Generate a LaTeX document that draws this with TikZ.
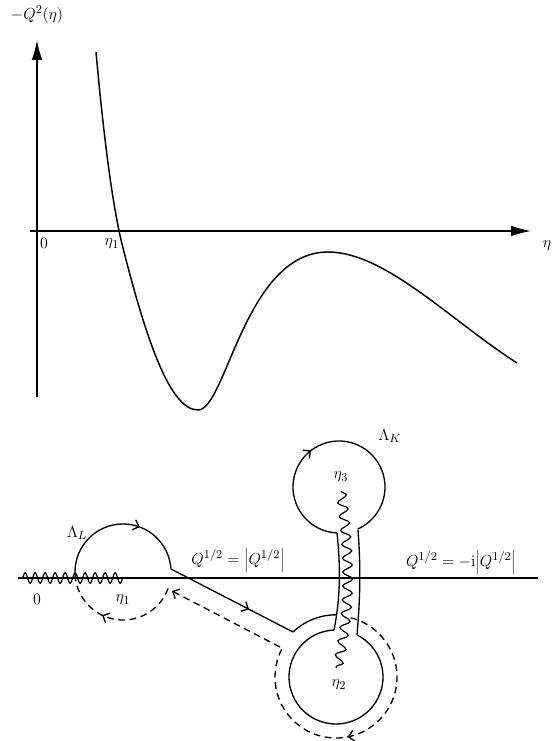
\documentclass[tikz,border=0pt]{standalone}
\usetikzlibrary{arrows.meta,decorations.pathmorphing,decorations.markings}
\tikzset{
  axis/.style={line width=1.1pt,-{Latex[length=15pt,width=8pt]}},
  curve/.style={line width=1.1pt},
  cont/.style={line width=1pt},
  dcont/.style={line width=1pt,dash pattern=on 5pt off 3.5pt},
  barb/.style={-{Straight Barb[length=4pt,width=8pt,line width=1pt]}},
  midarrow/.style={postaction={decorate,decoration={markings,
     mark=at position #1 with {\arrow{Straight Barb[length=4pt,width=8pt,line width=1pt]}}}}},
  hcut/.style={line width=0.9pt,decorate,decoration={snake,amplitude=4pt,segment length=7.5pt}},
  vcut/.style={line width=0.9pt,decorate,decoration={snake,amplitude=3.6pt,segment length=10.5pt}},
  lbl/.style={inner sep=1pt}
}
\begin{document}
\begin{tikzpicture}[x=0.75pt,y=-0.75pt,font=\fontsize{13}{15}\selectfont]
\useasboundingbox (0,0) rectangle (551,741);
% ---------- upper graph ----------
\draw[axis] (37,397) -- (37,40);
\draw[axis] (30,231) -- (531,231);
\node[lbl] (ylab) at (37,15) {$-Q^{2}(\eta)$};
\node[lbl] (zero1) at (44,243) {$0$};
\node[lbl] (eta1a) at (112,244) {$\eta_1$};
\node[lbl] (etax) at (547,246) {$\eta$};
\draw[curve] (96,52) .. controls (104,140) and (112,200) .. (121,240)
  .. controls (146,340) and (170,410) .. (198,410)
  .. controls (226,410) and (245,252) .. (328,252)
  .. controls (385,252) and (450,320) .. (517,363);
% ---------- lower contour picture ----------
\draw[line width=1.1pt] (18,578) -- (538,578);
\draw[hcut] (22,578) -- (128,578);
\node[lbl] (zero2) at (37,599) {$0$};
\node[lbl] (eta1b) at (123,600) {$\eta_1$};
\node[lbl] (lamL) at (77,533) {$\Lambda_L$};
\node[lbl] (lamK) at (390,436) {$\Lambda_K$};
\node[lbl] (qplus) at (238,560) {$Q^{1/2}=\Bigl|Q^{1/2}\Bigr|$};
\node[lbl] (qminus) at (461,562) {$Q^{1/2}=-\mathrm{i}\Bigl|Q^{1/2}\Bigr|$};
% small circle around eta_1
\coordinate (c1) at (123,572);
\draw[cont,midarrow=0.64] ([shift={(174:48)}]c1) arc[start angle=174,end angle=356,radius=48];
\draw[dcont,midarrow=0.63] ([shift={(20:48)}]c1) arc[start angle=20,end angle=172,radius=48];
% connecting lines
\coordinate (s1) at (171,569);
\coordinate (s2) at (293,632);
\draw[cont,midarrow=0.64] (s1) -- (s2);
\coordinate (d1) at (280,647);
\coordinate (d2) at (172,591);
\draw[dcont,barb] (d1) -- (d2);
% big circle around eta_2
\coordinate (c2) at (336,677);
\draw[cont] (s2) arc[start angle=226.3,end angle=270,radius=62];
\draw[cont] ([shift={(-63:47)}]c2) arc[start angle=-63,end angle=268,radius=47];
\draw[dcont,midarrow=0.546] ([shift={(-76:61)}]c2) arc[start angle=-76,end angle=208,radius=61];
% channel
\draw[cont] (337,533) .. controls (341,570) and (340,600) .. (334,630);
\draw[cont] (358,530) .. controls (361,570) and (360,600) .. (357,635);
% circle around eta_3
\coordinate (c3) at (339,487);
\draw[cont,midarrow=0.42] ([shift={(92.5:46)}]c3) arc[start angle=92.5,end angle=426,radius=46];
% branch cut eta_3 -- eta_2
\draw[vcut] (341,491) .. controls (350,560) and (350,610) .. (336,668);
\node[lbl] (eta3) at (341,477) {$\eta_3$};
\node[lbl] (eta2) at (339,685) {$\eta_2$};
\end{tikzpicture}
\end{document}
